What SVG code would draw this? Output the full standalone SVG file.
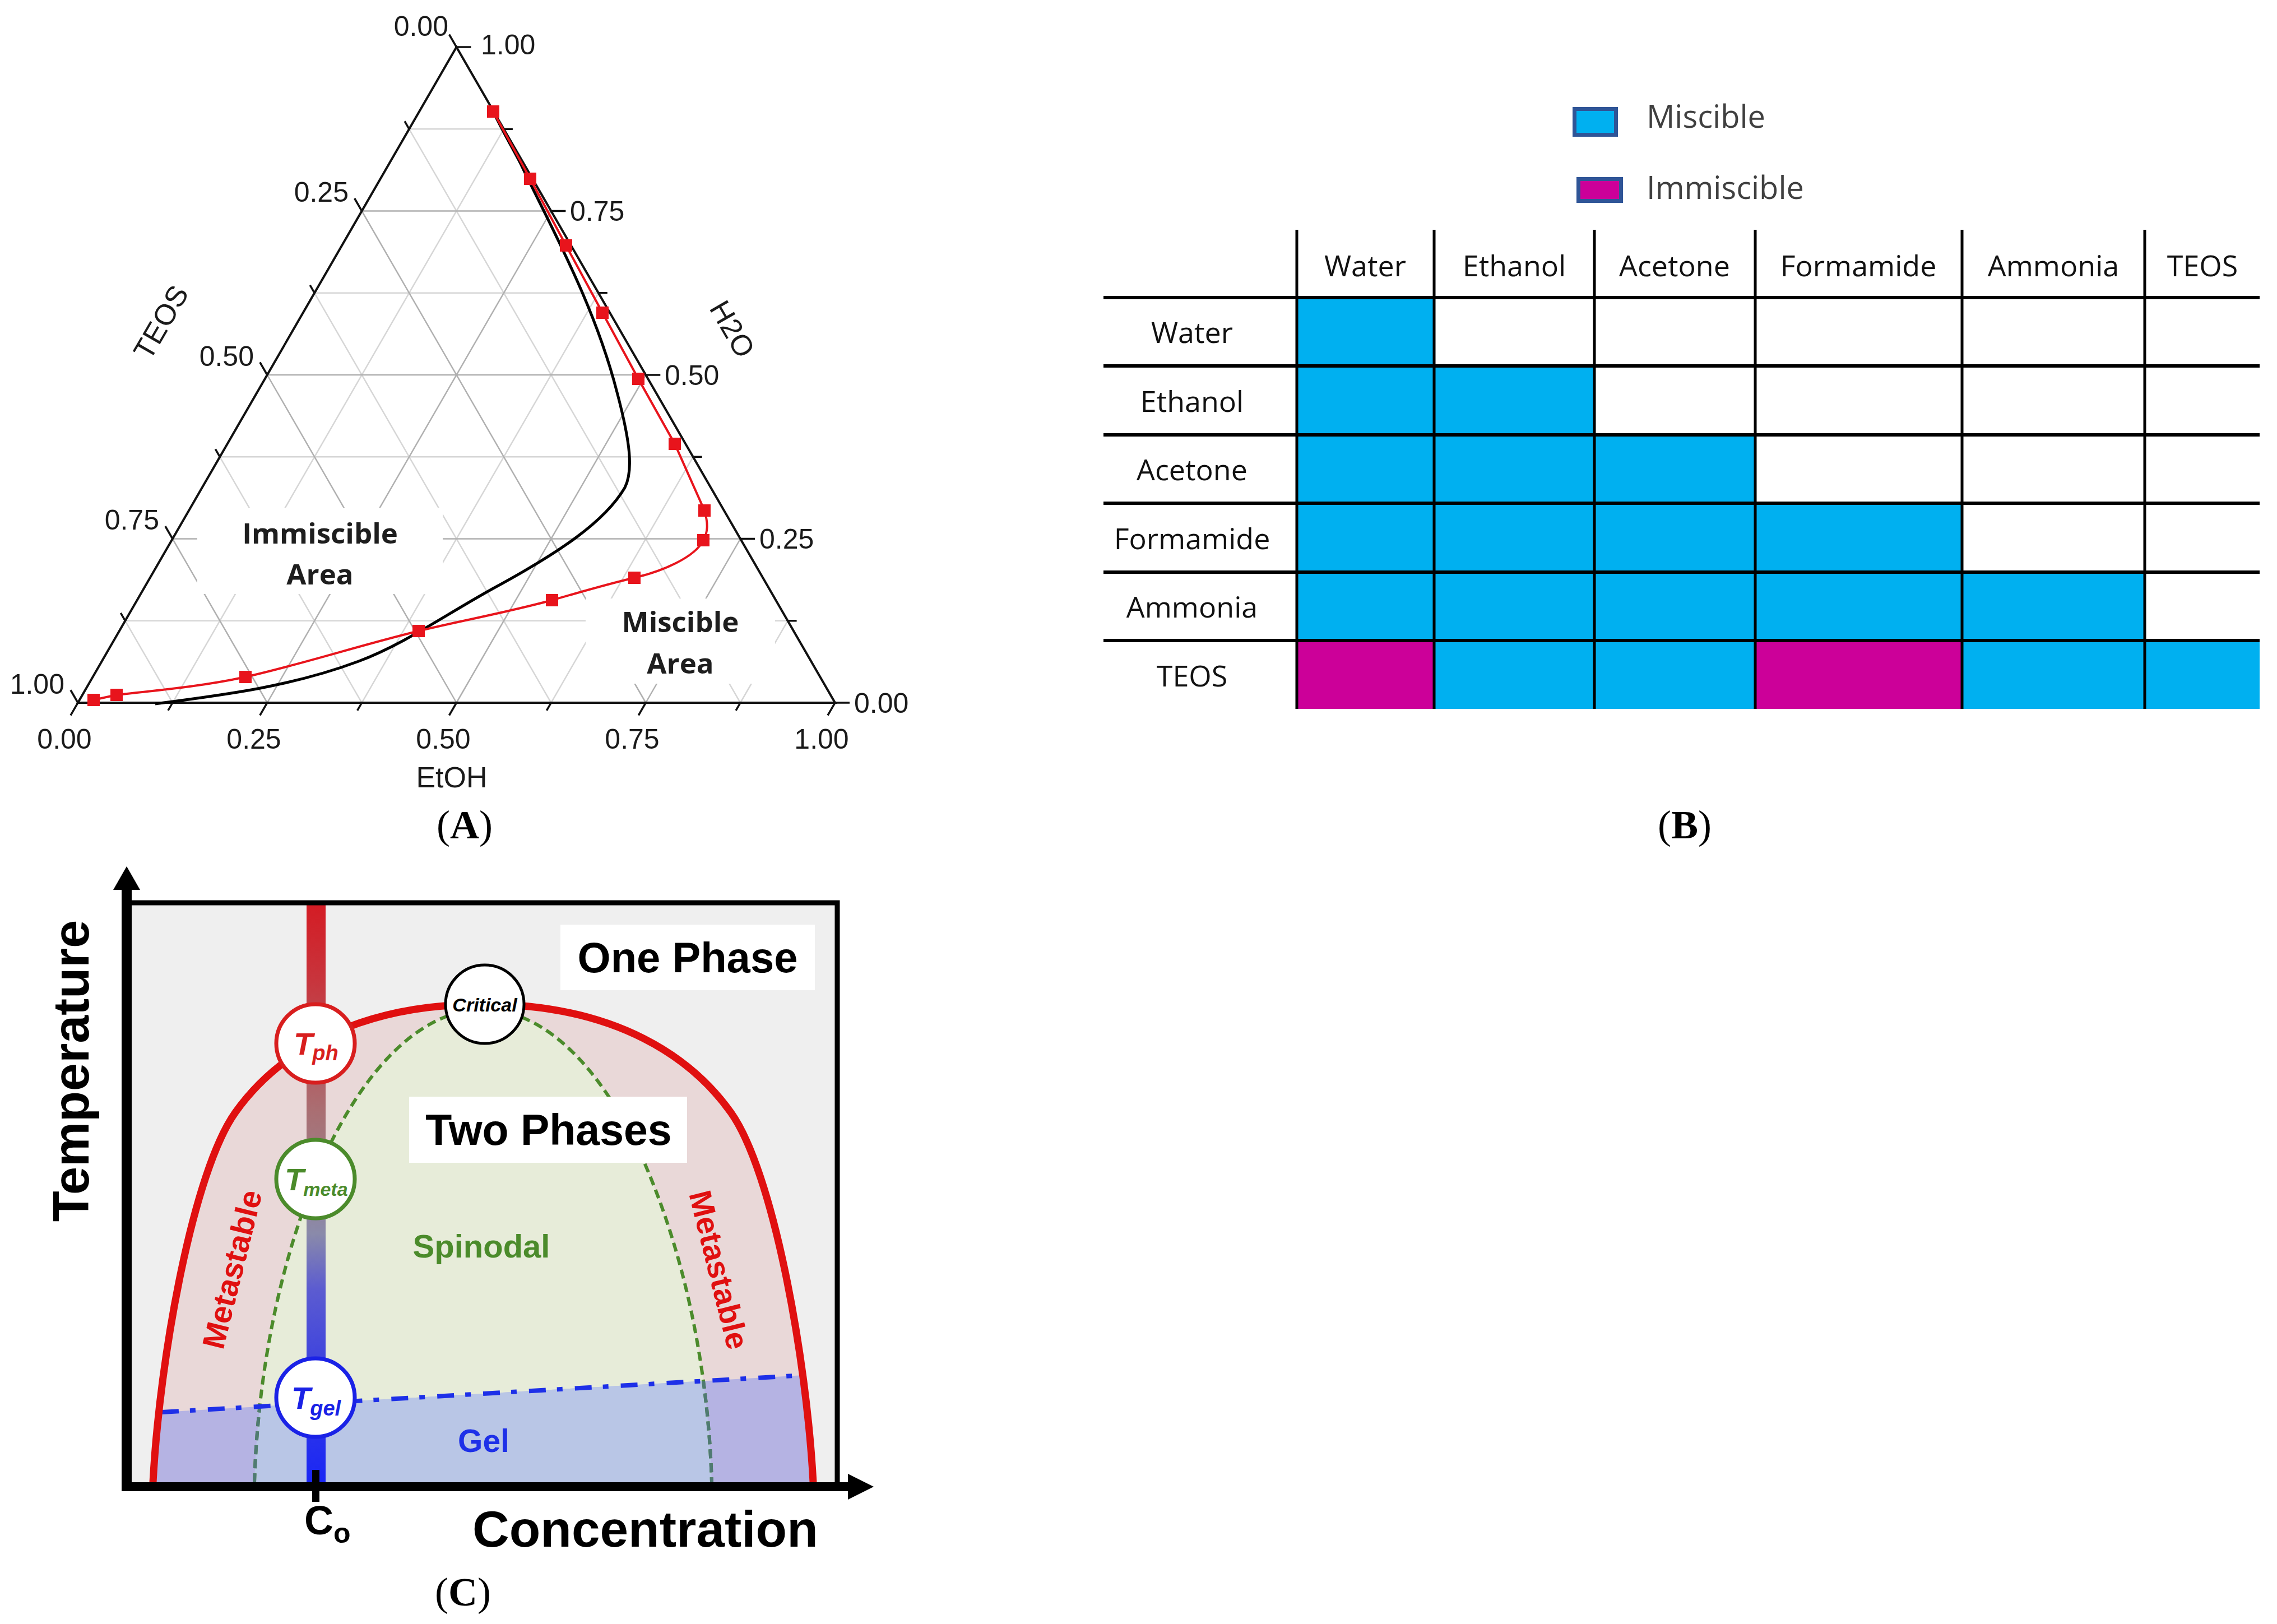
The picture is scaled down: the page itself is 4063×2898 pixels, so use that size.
<svg xmlns="http://www.w3.org/2000/svg" width="4063" height="2898" viewBox="0 0 4063 2898">
<defs>
<style>
.ax{fill:#1a1a1a;font-family:"Liberation Sans",Arial,sans-serif;font-size:50px}
.gmaj{stroke:#b0b0b0;stroke-width:2.5;fill:none}
.gmin{stroke:#d6d6d6;stroke-width:2.5;fill:none}
.mk{fill:#e8141c}
.areaT{fill:#1e1e1e;font-family:"Open Sans","Liberation Sans",sans-serif;font-weight:bold;font-size:51px;text-anchor:middle}
.tb{fill:#111;font-family:"Open Sans","Liberation Sans",sans-serif;font-size:52px;text-anchor:middle}
.leg{fill:#404040;font-family:"Open Sans","Liberation Sans",sans-serif;font-size:56px}
.blue{fill:#00b0f0}
.mag{fill:#cc0099}
.cap{fill:#000;font-family:"Liberation Serif","Times New Roman",serif;font-size:72px;text-anchor:middle}
.bd{font-family:"Liberation Sans",Arial,sans-serif;font-weight:bold}
.circ{fill:#fff;stroke-width:7}
</style>
<linearGradient id="bar" gradientUnits="userSpaceOnUse" x1="0" y1="1614" x2="0" y2="2645">
<stop offset="0" stop-color="#d41c24"/>
<stop offset="0.13" stop-color="#c8343c"/>
<stop offset="0.355" stop-color="#aa6e72"/>
<stop offset="0.43" stop-color="#a07a82"/>
<stop offset="0.57" stop-color="#8a8aaa"/>
<stop offset="0.665" stop-color="#5c5cd0"/>
<stop offset="0.81" stop-color="#3a40e0"/>
<stop offset="1" stop-color="#1a26f5"/>
</linearGradient>
<clipPath id="clipRed"><path d="M273,2645 C285,2420 345,2090 420,1985 C487,1891 620,1792 862,1792 C1104,1792 1237,1891 1304,1985 C1379,2090 1439,2420 1451,2645 Z"/></clipPath>
<clipPath id="clipGreen"><path d="M454,2645 C460,2450 500,2230 590,2040 C650,1920 740,1805 862,1800 C984,1805 1074,1920 1134,2040 C1224,2230 1264,2450 1270,2645 Z"/></clipPath>
<clipPath id="clipGel"><polygon points="240,2522.8 1480,2451.4 1480,2646 240,2646"/></clipPath>
</defs>
<rect x="0" y="0" width="4063" height="2898" fill="#fff"/>

<!-- ================= Panel A : ternary diagram ================= -->
<g id="panelA">
 <g id="gridA">
  <path class="gmin" d="M223.4,1107.8H1405.6 M392.3,815.3H1236.7 M561.2,522.8H1067.8 M730.1,230.3H898.9 M307.9,1254L898.9,230.3 M645.6,1254L1067.8,522.8 M983.4,1254L1236.7,815.3 M1321.1,1254L1405.6,1107.8 M730.1,230.3L1321.1,1254 M561.2,522.8L983.4,1254 M392.3,815.3L645.6,1254 M223.4,1107.8L307.9,1254"/>
  <path class="gmaj" d="M307.9,961.5H1321.1 M476.8,669H1152.3 M645.6,376.5H983.4 M476.8,1254L983.4,376.5 M814.5,1254L1152.3,669 M1152.3,1254L1321.1,961.5 M645.6,376.5L1152.3,1254 M476.8,669L814.5,1254 M307.9,961.5L476.8,1254"/>
 </g>
 <rect x="352" y="906" width="438" height="154" fill="#fff"/>
 <rect x="1045" y="1068" width="338" height="152" fill="#fff"/>
 <polygon points="814.5,84 1490,1254 139,1254" fill="none" stroke="#111" stroke-width="4" stroke-linejoin="miter"/>
 <g id="ticksA" stroke="#111" stroke-width="3.5" fill="none">
  <path d="M1490,1254h26 M1405.6,1107.8h16 M1321.1,961.5h26 M1236.7,815.3h16 M1152.3,669h26 M1067.8,522.8h16 M983.4,376.5h26 M898.9,230.3h16 M814.5,84h26"/>
  <path d="M814.5,84l-13,-22.5 M730.1,230.3l-8,-13.9 M645.6,376.5l-13,-22.5 M561.2,522.8l-8,-13.9 M476.8,669l-13,-22.5 M392.3,815.3l-8,-13.9 M307.9,961.5l-13,-22.5 M223.4,1107.8l-8,-13.9 M139,1254l-13,-22.5"/>
  <path d="M139,1254l-13,22.5 M307.9,1254l-8,13.9 M476.8,1254l-13,22.5 M645.6,1254l-8,13.9 M814.5,1254l-13,22.5 M983.4,1254l-8,13.9 M1152.3,1254l-13,22.5 M1321.1,1254l-8,13.9 M1490,1254l-13,22.5"/>
 </g>
 <g id="labelsA" class="ax">
  <text x="858" y="97">1.00</text>
  <text x="1017" y="394">0.75</text>
  <text x="1186" y="687">0.50</text>
  <text x="1355" y="979">0.25</text>
  <text x="1524" y="1272">0.00</text>
  <text x="800" y="64" text-anchor="end">0.00</text>
  <text x="622" y="360" text-anchor="end">0.25</text>
  <text x="453" y="653" text-anchor="end">0.50</text>
  <text x="284" y="945" text-anchor="end">0.75</text>
  <text x="115" y="1238" text-anchor="end">1.00</text>
  <text x="115" y="1336" text-anchor="middle">0.00</text>
  <text x="453" y="1336" text-anchor="middle">0.25</text>
  <text x="791" y="1336" text-anchor="middle">0.50</text>
  <text x="1128" y="1336" text-anchor="middle">0.75</text>
  <text x="1466" y="1336" text-anchor="middle">1.00</text>
  <text x="806" y="1405" text-anchor="middle" font-size="52">EtOH</text>
  <text transform="translate(287,575) rotate(-60)" text-anchor="middle" dy="0.35em" font-size="52">TEOS</text>
  <text transform="translate(1307,587) rotate(60)" text-anchor="middle" dy="0.35em" font-size="52">H2O</text>
 </g>
 <path id="blackCurve" d="M880,199 C900,240 915,265 928,290 C980,400 1060,540 1101,700 C1125,790 1130,840 1115,870 C1080,930 1000,985 880,1050 C790,1100 720,1150 640,1180 C520,1225 400,1240 277,1256" fill="none" stroke="#000" stroke-width="5"/>
 <path id="redCurve" d="M880,199 L946,319 L1010,438 L1075,558 L1139,676 L1204,792 L1257,911 C1264,935 1263,950 1255,964 C1240,995 1180,1020 1132,1031 C1085,1042 1030,1058 985,1071 C900,1094 820,1108 747,1126 C640,1152 540,1185 438,1208 C360,1225 280,1232 208,1240 L167,1249" fill="none" stroke="#e8141c" stroke-width="4"/>
 <g id="markersA">
  <rect class="mk" x="869" y="188" width="22" height="22"/>
  <rect class="mk" x="935" y="308" width="22" height="22"/>
  <rect class="mk" x="999" y="427" width="22" height="22"/>
  <rect class="mk" x="1064" y="547" width="22" height="22"/>
  <rect class="mk" x="1128" y="665" width="22" height="22"/>
  <rect class="mk" x="1193" y="781" width="22" height="22"/>
  <rect class="mk" x="1246" y="900" width="22" height="22"/>
  <rect class="mk" x="1244" y="953" width="22" height="22"/>
  <rect class="mk" x="1121" y="1020" width="22" height="22"/>
  <rect class="mk" x="974" y="1060" width="22" height="22"/>
  <rect class="mk" x="736" y="1115" width="22" height="22"/>
  <rect class="mk" x="427" y="1197" width="22" height="22"/>
  <rect class="mk" x="197" y="1229" width="22" height="22"/>
  <rect class="mk" x="156" y="1238" width="22" height="22"/>
 </g>
 <text class="areaT" x="571" y="970">Immiscible</text>
 <text class="areaT" x="571" y="1043">Area</text>
 <text class="areaT" x="1214" y="1128">Miscible</text>
 <text class="areaT" x="1214" y="1202">Area</text>
 <text class="cap" x="829" y="1496">(<tspan font-weight="bold">A</tspan>)</text>
</g>

<!-- ================= Panel B : miscibility table ================= -->
<g id="panelB">
 <g id="legendB">
  <rect x="2809.5" y="194.5" width="74" height="46" fill="#00b0f0" stroke="#2f5597" stroke-width="7"/>
  <text class="leg" x="2938" y="228">Miscible</text>
  <rect x="2816.5" y="319.5" width="76" height="39" fill="#cc0099" stroke="#2f5597" stroke-width="7"/>
  <text class="leg" x="2938" y="355">Immiscible</text>
 </g>
 <g id="cellsB">
  <rect class="blue" x="2314" y="531" width="245" height="122"/>
  <rect class="blue" x="2314" y="653" width="531" height="123"/>
  <rect class="blue" x="2314" y="776" width="818" height="122"/>
  <rect class="blue" x="2314" y="898" width="1187" height="123"/>
  <rect class="blue" x="2314" y="1021" width="1513" height="122"/>
  <rect class="mag" x="2314" y="1143" width="245" height="122"/>
  <rect class="blue" x="2559" y="1143" width="573" height="122"/>
  <rect class="mag" x="3132" y="1143" width="369" height="122"/>
  <rect class="blue" x="3501" y="1143" width="531" height="122"/>
 </g>
 <g id="linesB" stroke="#000" fill="none">
  <path stroke-width="6" d="M1969,531H4032 M1969,653H4032 M1969,776H4032 M1969,898H4032 M1969,1021H4032 M1969,1143H4032"/>
  <path stroke-width="5" d="M2314,410V1265 M2559,410V1265 M2845,410V1265 M3132,410V1265 M3501,410V1265 M3827,410V1265"/>
 </g>
 <g id="textB" class="tb">
  <text x="2436" y="493">Water</text>
  <text x="2702" y="493">Ethanol</text>
  <text x="2988" y="493">Acetone</text>
  <text x="3316" y="493">Formamide</text>
  <text x="3664" y="493">Ammonia</text>
  <text x="3930" y="493">TEOS</text>
  <text x="2127" y="612">Water</text>
  <text x="2127" y="735">Ethanol</text>
  <text x="2127" y="857">Acetone</text>
  <text x="2127" y="980">Formamide</text>
  <text x="2127" y="1102">Ammonia</text>
  <text x="2127" y="1225">TEOS</text>
 </g>
 <text class="cap" x="3006" y="1496">(<tspan font-weight="bold">B</tspan>)</text>
</g>

<!-- ================= Panel C : phase diagram ================= -->
<g id="panelC">
 <rect x="230" y="1612" width="1262" height="1036" fill="#efefef"/>
 <path id="binodalFill" d="M273,2645 C285,2420 345,2090 420,1985 C487,1891 620,1792 862,1792 C1104,1792 1237,1891 1304,1985 C1379,2090 1439,2420 1451,2645 Z" fill="#e9d8d8"/>
 <path id="spinodalFill" d="M454,2645 C460,2450 500,2230 590,2040 C650,1920 740,1805 862,1800 C984,1805 1074,1920 1134,2040 C1224,2230 1264,2450 1270,2645 Z" fill="#e7ecd9"/>
 <g clip-path="url(#clipRed)"><polygon points="240,2522.8 1480,2451.4 1480,2646 240,2646" fill="#b5b3e3"/></g>
 <g clip-path="url(#clipGreen)"><polygon points="240,2522.8 1480,2451.4 1480,2646 240,2646" fill="#b9c6e6"/></g>
 <path id="spinodal" d="M454,2645 C460,2450 500,2230 590,2040 C650,1920 740,1805 862,1800 C984,1805 1074,1920 1134,2040 C1224,2230 1264,2450 1270,2645" fill="none" stroke="#4b8b2b" stroke-width="6" stroke-dasharray="16 9"/>
 <g clip-path="url(#clipGel)"><path d="M454,2645 C460,2450 500,2230 590,2040 C650,1920 740,1805 862,1800 C984,1805 1074,1920 1134,2040 C1224,2230 1264,2450 1270,2645" fill="none" stroke="#4f7a72" stroke-width="6" stroke-dasharray="16 9"/></g>
 <line id="gelLine" x1="289" y1="2520" x2="1434" y2="2454" stroke="#1e30e8" stroke-width="8" stroke-dasharray="30 20 10 22"/>
 <rect id="gradBar" x="547" y="1614" width="34" height="1032" fill="url(#bar)"/>
 <path id="binodal" d="M273,2645 C285,2420 345,2090 420,1985 C487,1891 620,1792 862,1792 C1104,1792 1237,1891 1304,1985 C1379,2090 1439,2420 1451,2645" fill="none" stroke="#e01010" stroke-width="13"/>
 <g id="axesC" fill="#000" stroke="#000">
  <path d="M226,1611H1494V2653" fill="none" stroke-width="9"/>
  <line x1="226" y1="1585" x2="226" y2="2661" stroke-width="18"/>
  <polygon points="226,1546 250,1588 202,1588" stroke="none"/>
  <line x1="217" y1="2653" x2="1515" y2="2653" stroke-width="16"/>
  <polygon points="1559,2653 1513,2630 1513,2676" stroke="none"/>
  <rect x="557" y="2623" width="13" height="57" stroke="none"/>
 </g>
 <g id="nodeTph">
  <circle class="circ" cx="563" cy="1862" r="70" stroke="#d81e1e"/>
  <text class="bd" x="524" y="1882" font-size="56" font-style="italic" fill="#d81e1e">T<tspan font-size="38" dx="-1" dy="10">ph</tspan></text>
 </g>
 <g id="nodeTmeta">
  <circle class="circ" cx="563" cy="2104" r="70" stroke="#4b8b2b"/>
  <text class="bd" x="508" y="2124" font-size="56" font-style="italic" fill="#4b8b2b">T<tspan font-size="34" dx="-1" dy="10">meta</tspan></text>
 </g>
 <g id="nodeTgel">
  <circle class="circ" cx="563" cy="2494" r="70" stroke="#1a22e6"/>
  <text class="bd" x="520" y="2514" font-size="56" font-style="italic" fill="#1a22e6">T<tspan font-size="38" dx="-1" dy="12">gel</tspan></text>
 </g>
 <g id="nodeCritical">
  <circle cx="865" cy="1792" r="70" fill="#fff" stroke="#000" stroke-width="5"/>
  <text class="bd" x="865" y="1805" font-size="34" font-style="italic" text-anchor="middle" fill="#000">Critical</text>
 </g>
 <rect x="1000" y="1650" width="454" height="117" fill="#fff"/>
 <text class="bd" x="1227" y="1735" font-size="76" text-anchor="middle" fill="#000">One Phase</text>
 <rect x="730" y="1957" width="496" height="118" fill="#fff"/>
 <text class="bd" x="979" y="2043" font-size="77" text-anchor="middle" fill="#000">Two Phases</text>
 <text class="bd" x="859" y="2244" font-size="58" text-anchor="middle" fill="#4b8b2b">Spinodal</text>
 <text class="bd" x="863" y="2591" font-size="57" text-anchor="middle" fill="#1e30e8">Gel</text>
 <text class="bd" transform="translate(414,2265) rotate(-76)" font-size="56" text-anchor="middle" dy="0.35em" fill="#e01010">Metastable</text>
 <text class="bd" transform="translate(1283,2266) rotate(76)" font-size="56" text-anchor="middle" dy="0.35em" fill="#e01010">Metastable</text>
 <text class="bd" transform="translate(126,1911) rotate(-90)" font-size="90" text-anchor="middle" dy="0.35em" fill="#000">Temperature</text>
 <text class="bd" x="843" y="2760" font-size="91" fill="#000">Concentration</text>
 <text class="bd" x="543" y="2738" font-size="72" fill="#000">C<tspan font-size="50" dy="15">o</tspan></text>
 <text class="cap" x="826" y="2865">(<tspan font-weight="bold">C</tspan>)</text>
</g>
</svg>
